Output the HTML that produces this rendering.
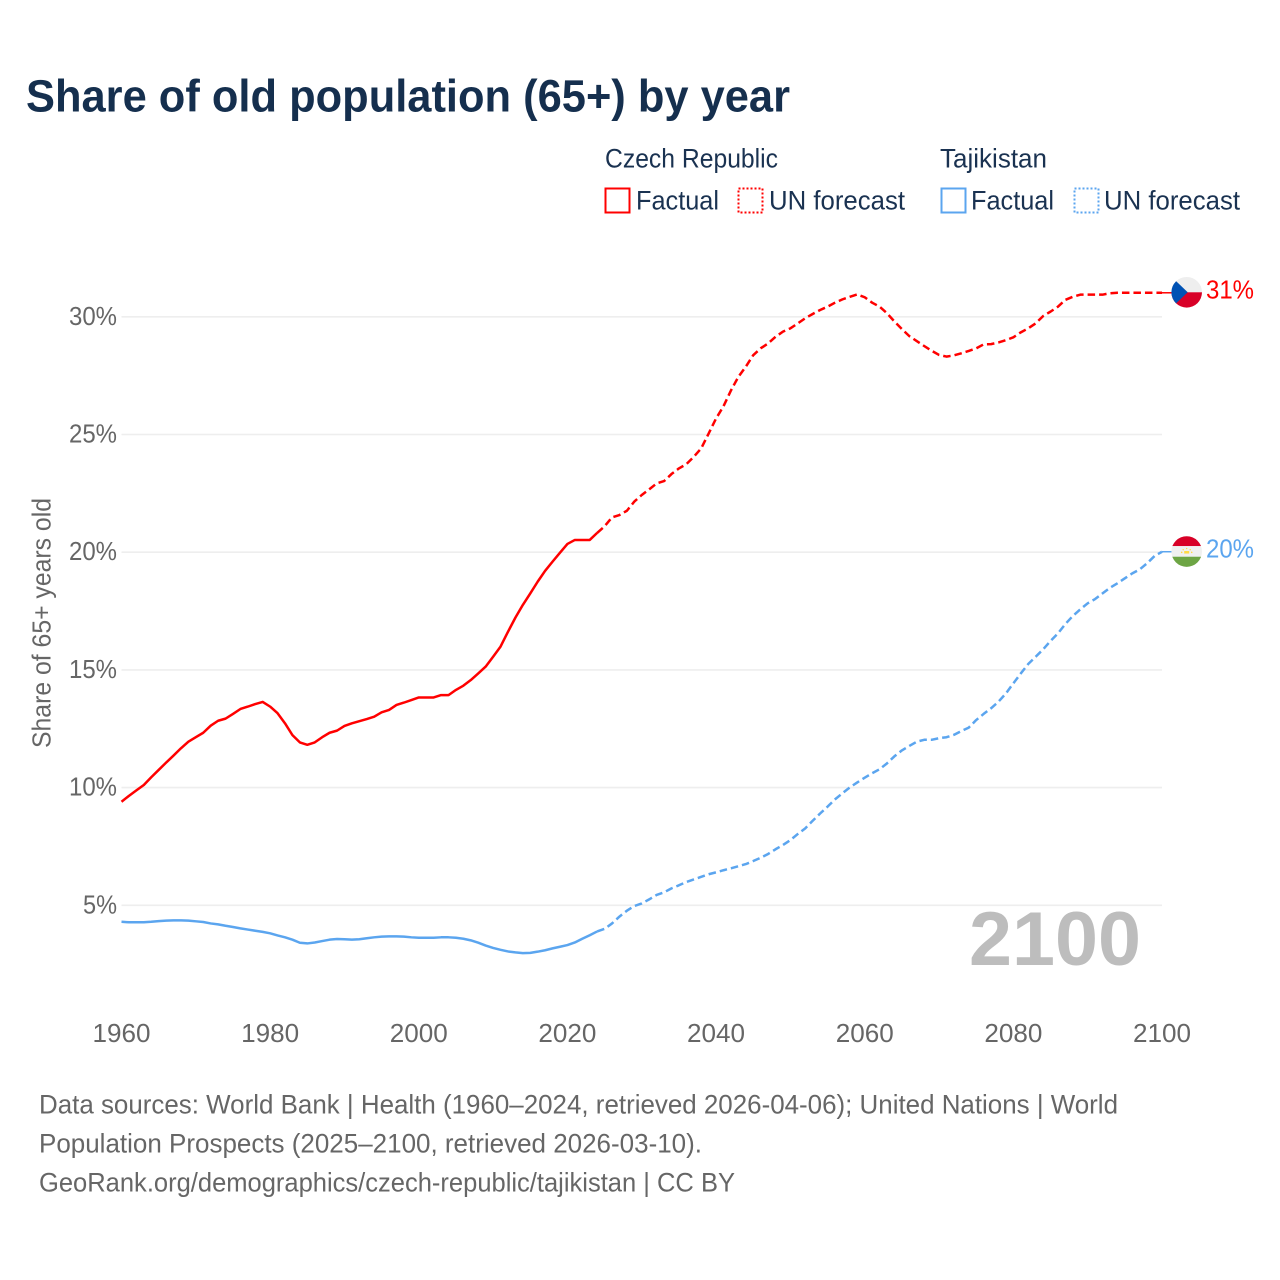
<!DOCTYPE html>
<html lang="en">
<head>
<meta charset="utf-8">
<title>Share of old population (65+) by year</title>
<style>
html,body{margin:0;padding:0;background:#fff;width:1280px;height:1280px;overflow:hidden}
svg{display:block}
text{font-family:"Liberation Sans",sans-serif}
</style>
</head>
<body>
<svg id="chart" xmlns="http://www.w3.org/2000/svg" width="1280" height="1280" viewBox="0 0 1280 1280">
  <rect x="0" y="0" width="1280" height="1280" fill="#fff"/>
  <text x="26" y="111.5" font-size="45" font-weight="700" fill="#152f4e" textLength="764" lengthAdjust="spacingAndGlyphs">Share of old population (65+) by year</text>

  <g font-size="26.5" fill="#1a3251">
    <text x="605" y="167.3" textLength="173" lengthAdjust="spacingAndGlyphs">Czech Republic</text>
    <text x="940" y="167.3" textLength="107" lengthAdjust="spacingAndGlyphs">Tajikistan</text>
    <rect x="605.5" y="188.5" width="24" height="24" fill="none" stroke="#ff0000" stroke-width="2"/>
    <text x="636" y="209.5" textLength="83" lengthAdjust="spacingAndGlyphs">Factual</text>
    <rect x="738.5" y="188.5" width="24" height="24" fill="none" stroke="#ff0000" stroke-width="2" stroke-dasharray="2 2"/>
    <text x="769" y="209.5" textLength="136" lengthAdjust="spacingAndGlyphs">UN forecast</text>
    <rect x="941.5" y="188.5" width="24" height="24" fill="none" stroke="#5ba5ef" stroke-width="2"/>
    <text x="971" y="209.5" textLength="83" lengthAdjust="spacingAndGlyphs">Factual</text>
    <rect x="1074.5" y="188.5" width="24" height="24" fill="none" stroke="#5ba5ef" stroke-width="2" stroke-dasharray="2 2"/>
    <text x="1104" y="209.5" textLength="136" lengthAdjust="spacingAndGlyphs">UN forecast</text>
  </g>

  <g id="grid"></g>
  <g id="yAxis"></g>
  <g id="xAxis"></g>
  <text transform="translate(50.5 623) rotate(-90)" text-anchor="middle" font-size="25.5" fill="#666" textLength="250" lengthAdjust="spacingAndGlyphs">Share of 65+ years old</text>
  <text x="969" y="965" font-size="76" font-weight="700" fill="#bdbdbd" textLength="172" lengthAdjust="spacingAndGlyphs">2100</text>
  <g id="series"></g>

  <g id="flagCzech">
    <clipPath id="clipCzech"><circle cx="0" cy="0" r="15.3"/></clipPath>
    <g clip-path="url(#clipCzech)">
      <rect x="-16" y="-16" width="32" height="16" fill="#eeeeee"/>
      <rect x="-16" y="0" width="32" height="16" fill="#d80027"/>
      <polygon points="-16,-16 -10.5,-11 1,0 -10.5,11 -16,16" fill="#0052b4"/>
    </g>
  </g>
  <g id="flagTajik">
    <clipPath id="clipTajik"><circle cx="0" cy="0" r="15.3"/></clipPath>
    <g clip-path="url(#clipTajik)">
      <rect x="-16" y="-16" width="32" height="32" fill="#f0f0f0"/>
      <rect x="-16" y="-16" width="32" height="10.5" fill="#d80027"/>
      <rect x="-16" y="5.2" width="32" height="11" fill="#6da544"/>
      <rect x="-2.5" y="-0.5" width="5" height="2.5" fill="#ffda44"/>
      <circle cx="-5" cy="0.8" r="0.8" fill="#ffda44"/><circle cx="5" cy="0.8" r="0.8" fill="#ffda44"/>
      <circle cx="-3.5" cy="-1.8" r="0.7" fill="#ffda44"/><circle cx="3.5" cy="-1.8" r="0.7" fill="#ffda44"/>
      <circle cx="0" cy="-3" r="0.7" fill="#ffda44"/>
    </g>
  </g>
  <text id="labelCzech" x="1206" font-size="25.5" fill="#ff0000" textLength="48" lengthAdjust="spacingAndGlyphs"></text>
  <text id="labelTajik" x="1206" font-size="25.5" fill="#5ba5ef" textLength="48" lengthAdjust="spacingAndGlyphs"></text>

  <g font-size="26.5" fill="#666">
    <text x="39" y="1113.5" textLength="1079" lengthAdjust="spacingAndGlyphs">Data sources: World Bank | Health (1960–2024, retrieved 2026-04-06); United Nations | World</text>
    <text x="39" y="1152.5" textLength="663" lengthAdjust="spacingAndGlyphs">Population Prospects (2025–2100, retrieved 2026-03-10).</text>
    <text x="39" y="1191.5" textLength="696" lengthAdjust="spacingAndGlyphs">GeoRank.org/demographics/czech-republic/tajikistan | CC BY</text>
  </g>
</svg>
<script>
const years = [1960,1961,1962,1963,1964,1965,1966,1967,1968,1969,1970,1971,1972,1973,1974,1975,1976,1977,1978,1979,
1980,1981,1982,1983,1984,1985,1986,1987,1988,1989,1990,1991,1992,1993,1994,1995,1996,1997,1998,1999,
2000,2001,2002,2003,2004,2005,2006,2007,2008,2009,2010,2011,2012,2013,2014,2015,2016,2017,2018,2019,
2020,2021,2022,2023,2024,2025,2026,2027,2028,2029,2030,2031,2032,2033,2034,2035,2036,2037,2038,2039,
2040,2041,2042,2043,2044,2045,2046,2047,2048,2049,2050,2051,2052,2053,2054,2055,2056,2057,2058,2059,
2060,2061,2062,2063,2064,2065,2066,2067,2068,2069,2070,2071,2072,2073,2074,2075,2076,2077,2078,2079,
2080,2081,2082,2083,2084,2085,2086,2087,2088,2089,2090,2091,2092,2093,2094,2095,2096,2097,2098,2099,2100];
const czechShare = [9.4,9.65,9.88,10.11,10.44,10.75,11.06,11.36,11.67,11.95,12.14,12.33,12.63,12.84,12.93,13.13,13.34,13.44,13.55,13.64,
13.44,13.16,12.73,12.23,11.92,11.82,11.92,12.14,12.33,12.42,12.62,12.73,12.82,12.91,13.01,13.2,13.3,13.51,13.61,13.72,
13.83,13.83,13.83,13.93,13.93,14.15,14.33,14.57,14.85,15.14,15.56,15.99,16.62,17.22,17.76,18.25,18.75,19.21,19.6,19.98,
20.35,20.52,20.52,20.52,20.82,21.1,21.48,21.58,21.76,22.15,22.43,22.67,22.92,23.02,23.32,23.56,23.74,24.05,24.41,25.04,
25.68,26.2,26.87,27.45,27.88,28.37,28.66,28.87,29.15,29.37,29.51,29.72,29.94,30.12,30.29,30.43,30.6,30.74,30.85,30.95,
30.83,30.6,30.43,30.15,29.8,29.48,29.18,28.97,28.76,28.56,28.38,28.31,28.36,28.45,28.55,28.66,28.83,28.84,28.91,29.01,
29.13,29.34,29.51,29.72,30.03,30.22,30.43,30.72,30.85,30.94,30.94,30.94,30.94,31.0,31.02,31.02,31.02,31.02,31.02,31.02,31.02];
const tajikShare = [4.3,4.28,4.28,4.28,4.3,4.33,4.35,4.36,4.36,4.35,4.32,4.29,4.23,4.19,4.13,4.08,4.02,3.97,3.92,3.87,
3.81,3.72,3.64,3.54,3.41,3.38,3.42,3.48,3.54,3.57,3.56,3.54,3.56,3.6,3.64,3.67,3.68,3.68,3.67,3.64,
3.62,3.62,3.62,3.64,3.64,3.62,3.58,3.51,3.41,3.29,3.19,3.11,3.04,3.0,2.97,2.98,3.03,3.09,3.17,3.24,
3.31,3.42,3.58,3.73,3.89,4.0,4.23,4.52,4.77,4.97,5.08,5.25,5.44,5.55,5.72,5.85,5.99,6.1,6.21,6.32,
6.4,6.49,6.57,6.66,6.75,6.88,7.02,7.18,7.38,7.56,7.77,8.03,8.27,8.59,8.9,9.19,9.5,9.76,10.01,10.22,
10.42,10.61,10.78,11.03,11.33,11.58,11.77,11.95,12.03,12.03,12.1,12.14,12.24,12.4,12.55,12.87,13.13,13.37,13.65,14.0,
14.43,14.85,15.25,15.56,15.87,16.23,16.55,16.95,17.29,17.57,17.83,18.01,18.25,18.49,18.68,18.89,19.1,19.27,19.53,19.84,20.02];
const lastFactualYear = 2024;
const yTickValues = [5,10,15,20,25,30];
const xTickValues = [1960,1980,2000,2020,2040,2060,2080,2100];

const NS = 'http://www.w3.org/2000/svg';
const xScale = function (year) { return 121.5 + (year - 1960) * (1162 - 121.5) / 140; };
const yScale = function (v) { return 1023 - v * 23.54; };
function make(tag, parent, attrs) {
  const el = document.createElementNS(NS, tag);
  Object.keys(attrs).forEach(function (k) { el.setAttribute(k, attrs[k]); });
  parent.appendChild(el);
  return el;
}
function pathFor(values, fromYear, toYear) {
  let d = '';
  years.forEach(function (yr, i) {
    if (yr < fromYear || yr > toYear) return;
    d += (d ? 'L' : 'M') + xScale(yr).toFixed(2) + ' ' + yScale(values[i]).toFixed(2);
  });
  return d;
}

const grid = document.getElementById('grid');
const yAxis = document.getElementById('yAxis');
const xAxis = document.getElementById('xAxis');
yTickValues.forEach(function (v) {
  const line = make('line', grid, {x1: 121.5, x2: 1162, y1: yScale(v), y2: yScale(v), stroke: '#eeeeee', 'stroke-width': 1.6});
  
  
  const label = make('text', yAxis, {x: 117, y: yScale(v) + 8, 'text-anchor': 'end', 'font-size': 25.5, fill: '#666', textLength: v >= 10 ? 48 : 34, lengthAdjust: 'spacingAndGlyphs'});
  
  
  label.textContent = v + '%';
});
xTickValues.forEach(function (yr) {
  const label = make('text', xAxis, {x: xScale(yr), y: 1042, 'text-anchor': 'middle', 'font-size': 25.5, fill: '#666', textLength: 58, lengthAdjust: 'spacingAndGlyphs'});
  
  
  label.textContent = yr;
});

const seriesGroup = document.getElementById('series');
const lastYear = years[years.length - 1];
function drawSeries(values, color, key) {
  const factual = make('path', seriesGroup, {d: pathFor(values, years[0], lastFactualYear), fill: 'none', stroke: color, 'stroke-width': 2.5, 'stroke-linejoin': 'round'});
  
  
  const forecast = make('path', seriesGroup, {d: pathFor(values, lastFactualYear, lastYear), fill: 'none', stroke: color, 'stroke-width': 2.5, 'stroke-dasharray': '7.5 4', 'stroke-linejoin': 'round'});
  
  
  const endY = yScale(values[values.length - 1]);
  const connector = make('line', seriesGroup, {x1: xScale(lastYear), x2: xScale(lastYear) + 10, y1: endY, y2: endY, stroke: color, 'stroke-width': 1.5});
  
  
  return endY;
}
const czechEnd = drawSeries(czechShare, '#ff0000', 'czech-republic');
const tajikEnd = drawSeries(tajikShare, '#5ba5ef', 'tajikistan');

document.getElementById('flagCzech').setAttribute('transform', 'translate(1186.7 ' + (czechEnd - 0.5) + ')');
document.getElementById('flagTajik').setAttribute('transform', 'translate(1186.7 ' + (tajikEnd - 0.2) + ')');
const labelCzech = document.getElementById('labelCzech');
labelCzech.setAttribute('y', czechEnd + 5.8);
labelCzech.textContent = Math.round(czechShare[czechShare.length - 1]) + '%';
const labelTajik = document.getElementById('labelTajik');
labelTajik.setAttribute('y', tajikEnd + 5.8);
labelTajik.textContent = Math.round(tajikShare[tajikShare.length - 1]) + '%';
</script>
</body>
</html>
